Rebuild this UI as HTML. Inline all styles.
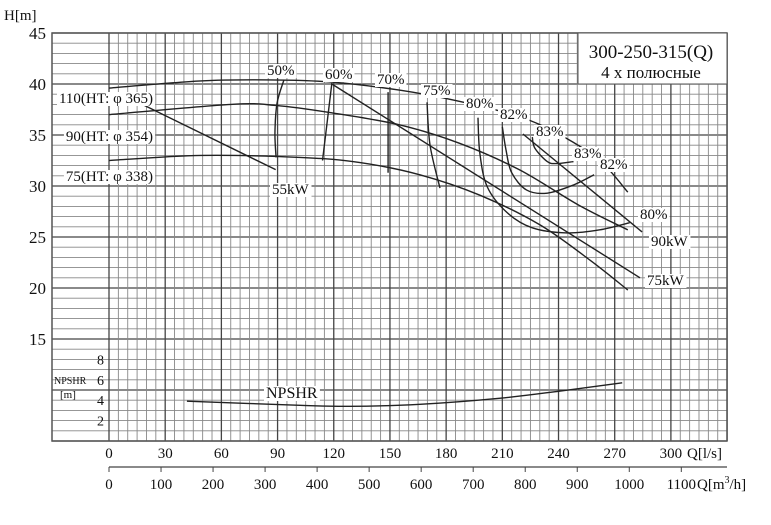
<!DOCTYPE html>
<html><head><meta charset="utf-8"><style>
body{margin:0;background:#fff;}
svg{display:block;font-family:"Liberation Serif",serif;}
</style></head><body>
<svg id="c" width="771" height="525" viewBox="0 0 771 525" xmlns="http://www.w3.org/2000/svg">
<g id="grid"></g>
<g id="curves"></g>
<g id="labels"></g>
</svg>
<script>
const headTicks=[45,40,35,30,25,20,15];
const npshTicks=[8,6,4,2];
const qTicks=[0,30,60,90,120,150,180,210,240,270,300];
const m3hTicks=[0,100,200,300,400,500,600,700,800,900,1000,1100];
const curve110=[[0,39.6],[49,40.3],[86,40.4],[118,40.2],[155,39.4],[187,38.3],[219,36.8],[241,35.0],[262,32.5],[277,29.4]];
const curve90=[[0,37.0],[65,38.0],[89,37.9],[118,37.2],[155,36.0],[187,34.2],[219,31.6],[251,28.1],[277,25.7]];
const curve75=[[0,32.5],[49,33.0],[102,32.8],[134,32.3],[166,31.1],[198,29.1],[230,26.2],[257,22.7],[277,19.8]];
const power55=[[10,38.7],[89,31.6]];
const power75=[[119,40.0],[283.5,21.0]];
const power90=[[221,35.1],[284.6,25.5]];
const eff50=[[93.4,40.4],[89.7,38.1],[88.6,35.2],[89.2,32.8]];
const eff60=[[119,40.1],[114,32.5]];
const eff70=[[149,39.2],[149,31.3]];
const eff75=[[169.8,38.2],[171.4,34.0],[176.7,29.8]];
const eff80=[[197,36.7],[198,33.2],[202,29.9],[212.5,27.4],[226,25.9],[244.5,25.4],[262,25.7],[278,26.4]];
const eff82=[[210,35.8],[212,33.5],[215,31.3],[223,29.6],[234,29.3],[248,30.1],[259,31.1]];
const eff83=[[226,34.8],[227.4,33.7],[234,32.4],[239,32.2],[248,32.4]];
const npshr=[[41.6,3.9],[102,3.5],[129,3.4],[166,3.6],[209,4.2],[241,4.9],[274,5.7]];

const NS="http://www.w3.org/2000/svg";
const X0=109,PX=1.873,Y0=33,PY=10.2;
function x(q){return X0+q*PX;}
function y(h){return Y0+(45-h)*PY;}
function yn(n){return y(n+5);}
function mk(tag,attrs,parent){const e=document.createElementNS(NS,tag);for(const k in attrs)e.setAttribute(k,attrs[k]);parent.appendChild(e);return e;}
const grid=document.getElementById('grid'),cur=document.getElementById('curves'),lab=document.getElementById('labels');
const L=52,R=727,T=y(45),B=y(5);
for(let h=5;h<=45;h++){
  const ln=mk('line',{x1:L,x2:R,y1:y(h),y2:y(h),stroke:h%5===0?'#444':'#888','stroke-width':h%5===0?1.3:0.9},grid);
  
  
}
for(let q=0;q<=330;q+=5){
  const ln=mk('line',{x1:x(q),x2:x(q),y1:T,y2:B,stroke:q%30===0?'#444':'#888','stroke-width':q%30===0?1.3:0.9},grid);
  
  
}
const box=mk('rect',{x:L,y:T,width:R-L,height:B-T,fill:'none',stroke:'#555','stroke-width':1.5},grid);



function path(pts,fy,name){
  let d='';
  if(pts.length<3){d='M'+x(pts[0][0])+','+fy(pts[0][1])+'L'+x(pts[1][0])+','+fy(pts[1][1]);}
  else{
    const P=pts.map(p=>[x(p[0]),fy(p[1])]);
    d='M'+P[0][0]+','+P[0][1];
    for(let i=0;i<P.length-1;i++){
      const p0=P[i-1]||P[i],p1=P[i],p2=P[i+1],p3=P[i+2]||P[i+1];
      const c1=[p1[0]+(p2[0]-p0[0])/6,p1[1]+(p2[1]-p0[1])/6],c2=[p2[0]-(p3[0]-p1[0])/6,p2[1]-(p3[1]-p1[1])/6];
      d+='C'+c1+' '+c2+' '+p2;
    }
  }
  const e=mk('path',{d:d,fill:'none',stroke:'#222','stroke-width':1.4},cur);
  
  
}
path(curve110,y,'head-curve-110');
path(curve90,y,'head-curve-90');
path(curve75,y,'head-curve-75');
path(power55,y,'power-line-55kw');
path(power75,y,'power-line-75kw');
path(power90,y,'power-line-90kw');
path(eff50,y,'efficiency-50');
path(eff60,y,'efficiency-60');
path(eff70,y,'efficiency-70');
path(eff75,y,'efficiency-75');
path(eff80,y,'efficiency-80');
path(eff82,y,'efficiency-82');
path(eff83,y,'efficiency-83');
path(npshr,yn,'npshr-curve');

function txt(s,px,py,size,anchor,name,bg){
  let r=null;
  if(bg){
    r=mk('rect',{fill:'#fff'},lab);
    
    
  }
  const t=mk('text',{x:px,y:py,'font-size':size,'text-anchor':anchor||'start',fill:'#111'},lab);
  t.textContent=s;
  
  
  if(r){const b=t.getBBox();r.setAttribute('x',b.x-2);r.setAttribute('y',b.y+1);r.setAttribute('width',b.width+4);r.setAttribute('height',b.height-2);}
  return t;
}
headTicks.forEach(h=>txt(String(h),46,y(h)+6,17,'end','y-tick-label'));
npshTicks.forEach(n=>txt(String(n),104,yn(n)+5,14,'end','npsh-tick-label'));
qTicks.forEach(q=>txt(String(q),x(q),458,15,'middle','x-tick-label-ls'));
m3hTicks.forEach(m=>txt(String(m),x(m/3.6),489,15,'middle','x-tick-label-m3h'));
const ax=mk('line',{x1:x(0),x2:R,y1:467,y2:467,stroke:'#444','stroke-width':1.2},lab);


m3hTicks.forEach(m=>{const tk=mk('line',{x1:x(m/3.6),x2:x(m/3.6),y1:467,y2:472,stroke:'#444'},lab);

});
txt('H[m]',4,20,15,'start','y-axis-title');
txt('NPSHR',54,384,10,'start','npsh-axis-title');
txt('[m]',60,398,11,'start','npsh-axis-unit');
txt('Q[l/s]',687,458,15,'start','x-axis-title-ls');
const t2=txt('Q[m',697,489,15,'start','x-axis-title-m3h');
const sp=mk('tspan',{dy:-6,'font-size':10},t2);sp.textContent='3';
const sp2=mk('tspan',{dy:6},t2);sp2.textContent='/h]';
const tb=mk('rect',{x:578,y:T,width:R-578,height:51,fill:'#fff',stroke:'#555','stroke-width':1},lab);


txt('300-250-315(Q)',651,58,19,'middle','model-title');
txt('4 x полюсные',651,78,17,'middle','pole-subtitle');
txt('110(HT: φ 365)',153,103,15,'end','label-110',true);
txt('90(HT: φ 354)',153,141,15,'end','label-90',true);
txt('75(HT: φ 338)',153,181,15,'end','label-75',true);
txt('55kW',272,194,15,'start','label-55kw',true);
txt('75kW',647,285,15,'start','label-75kw',true);
txt('90kW',651,246,15,'start','label-90kw',true);
txt('50%',267,75,15,'start','label-eff-50',true);
txt('60%',325,79,15,'start','label-eff-60',true);
txt('70%',377,84,15,'start','label-eff-70',true);
txt('75%',423,95,15,'start','label-eff-75',true);
txt('80%',466,108,15,'start','label-eff-80',true);
txt('82%',500,119,15,'start','label-eff-82',true);
txt('83%',536,136,15,'start','label-eff-83a',true);
txt('83%',574,158,15,'start','label-eff-83b',true);
txt('82%',600,169,15,'start','label-eff-82b',true);
txt('80%',640,219,15,'start','label-eff-80b',true);
txt('NPSHR',266,398,16,'start','label-npshr',true);
</script>
</body></html>
